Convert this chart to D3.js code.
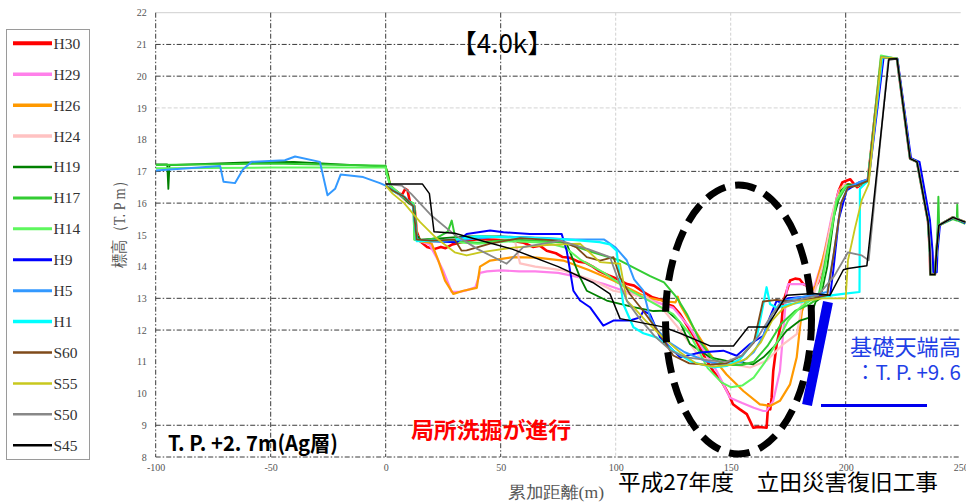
<!DOCTYPE html>
<html>
<head>
<meta charset="utf-8">
<script src="https://cdn.jsdelivr.net/npm/d3@7"></script>
<style>
  html, body { margin: 0; padding: 0; background: #fff; }
  svg { display: block; }
</style>
</head>
<body>
<svg id="chart" width="966" height="504"></svg>
<script>
// ---- Survey years (legend order) and styling ----
const seriesNames  = ["H30", "H29", "H26", "H24", "H19", "H17", "H14", "H9", "H5", "H1", "S60", "S55", "S50", "S45"];
const seriesColors = ["#ff0000", "#ff80ea", "#ff9900", "#ffc2c2", "#008000", "#33cc33", "#5ef75e", "#0000ff", "#3399ff", "#00ffff", "#7f4a1a", "#c8c81e", "#888888", "#000000"];
const lineWidths   = [2.6, 2.2, 2.2, 2.2, 1.8, 2, 2, 2, 2, 2.2, 1.8, 1.8, 1.8, 1.5];
const legendWidths = [4, 3.5, 3.5, 3.5, 2.5, 3, 3, 3, 3, 3.5, 2.5, 2.5, 2.5, 2.5];

// ---- Axis ticks ----
const xTicks = [-100, -50, 0, 50, 100, 150, 200, 250];
const yTicks = [8, 9, 10, 11, 12, 13, 14, 15, 16, 17, 18, 19, 20, 21, 22];
const yGridMajor = [9, 12, 13, 16, 17, 20, 21];
const yGridMinor = [19];
const xGridMajor = [-50, 0, 50, 200];
const xGridMinor = [100, 150];

// ---- Cross-section profiles: [cumulative distance (m), elevation T.P. (m)] ----
// crest of the levee and the land-side slope, shared by most surveys
const crestTail = [[222.3, 20.55], [228, 17.4], [231, 17.3], [235.8, 15.43], [236.6, 14.46], [236.8, 13.75], [238.8, 13.75], [239.5, 14.5], [240.5, 15.3], [246.6, 15.55], [252, 15.4]];

const H30 = [[0, 16.6], [3, 16.45], [7, 16.25], [8.5, 16.45], [9.5, 16.4], [10.5, 16.05], [12.5, 15.9], [13.5, 15.1], [15, 14.8], [18, 14.62], [21, 14.55], [24, 14.62], [26, 14.58], [29, 14.7], [32, 14.75], [36, 14.82], [41, 14.87], [46, 14.85], [51, 14.87], [56, 14.8], [60, 14.75], [64, 14.62], [67, 14.66], [70, 14.5], [74, 14.42], [77, 14.3], [80, 14.28], [84, 14.15], [87, 14.12], [90, 14.0], [93, 13.85], [97, 13.72], [101, 13.6], [105, 13.45], [108, 13.4], [112, 13.2], [116, 13.03], [120, 12.95], [123, 12.8], [125, 12.75], [128, 12.5], [131.6, 12.08], [134, 11.8], [136.6, 11.45], [139, 11.1], [142.4, 10.71], [146.8, 10.29], [149, 10.0], [151, 9.66], [154, 9.5], [157, 9.35], [159.8, 8.92], [162, 8.95], [165.6, 8.92], [166.3, 9.66], [167.2, 9.5], [167.8, 9.87], [168.5, 10.71], [170, 11.56], [172.2, 12.3], [172.9, 12.9], [175.8, 13.56], [178, 13.62], [180, 13.6], [181.6, 13.45], [183, 13.4], [186, 13.3], [188, 13.5], [191, 14.3], [194, 15.5], [197, 16.4], [198.5, 16.65], [200, 16.7], [202, 16.75], [203.3, 16.63], [205, 16.5], [209.6, 16.7], [215.5, 20.6]];

const H29 = [[0, 16.6], [2, 16.5], [10, 16.0], [12.5, 15.9], [13.5, 15.0], [15, 14.8], [19, 14.7], [22, 14.3], [25, 13.87], [28.7, 13.2], [32, 13.2], [35, 13.25], [39, 13.35], [41, 13.8], [44, 13.85], [50, 13.88], [58, 13.85], [65, 13.85], [75, 13.8], [85, 13.65], [95, 13.45], [105, 13.2], [115, 12.95], [125, 12.7], [132, 12.1], [138, 11.4], [144, 10.7], [149.7, 9.87], [155, 9.7], [160, 9.55], [164.2, 9.45], [165.6, 9.45], [168.5, 9.77], [171.4, 10.71], [172.9, 11.98], [174.3, 13.24], [175, 13.45], [181.6, 13.45], [186, 13.3], [190, 14.2], [194, 15.6], [197, 16.4], [200, 16.6], [205, 16.55], [209.6, 16.7], [215.5, 20.6]];

const H26 = [[0, 17.1], [1, 16.9], [2, 16.55], [10, 16.0], [12.5, 15.9], [13.5, 15.0], [15, 14.8], [19, 14.75], [20, 14.72], [22.9, 14.19], [25.8, 13.56], [29.4, 13.14], [33.8, 13.24], [39.6, 13.33], [41, 14.0], [45.4, 14.19], [55.5, 14.3], [65.6, 14.28], [77.2, 14.19], [88, 13.9], [99, 13.56], [113.5, 13.03], [122, 12.9], [126, 12.87], [127, 13.05], [128, 12.8], [133.7, 12.08], [141, 11.24], [148.2, 10.6], [155.5, 10.08], [162.7, 9.66], [167.1, 9.61], [171.4, 9.77], [175.8, 10.29], [178.7, 11.14], [180.1, 12.08], [181, 12.6], [183, 13.0], [187, 13.4], [191, 14.5], [195, 15.8], [198, 16.5], [201, 16.6], [205, 16.55], [209.6, 16.7], [215.5, 20.6]];

const H24 = [[0, 16.6], [10, 16.0], [12.5, 15.9], [13.5, 15.0], [15, 14.8], [25, 14.85], [35, 14.92], [42, 14.95], [50, 14.9], [56, 14.88], [58.4, 14.1], [65, 14.0], [77.2, 13.88], [90.3, 13.56], [99, 13.24], [113.5, 13.03], [120, 12.7], [128, 12.0], [136.6, 11.14], [144, 10.97], [151.1, 10.92], [158.4, 10.82], [165.6, 11.03], [172.9, 11.56], [178.7, 11.87], [180.1, 12.4], [181, 12.9], [186, 13.1], [190, 14.0], [195, 15.9], [199, 16.55], [205, 16.55], [209.6, 16.7], [215.5, 20.6]];

const H19 = [[-100, 17.22], [-95, 17.22], [-94.5, 16.45], [-94, 17.2], [-60, 17.28], [-40, 17.3], [-20, 17.22], [0, 17.15], [1, 16.9], [2, 16.55], [10, 16.0], [12.5, 15.9], [13.5, 15.0], [15, 14.85], [25, 14.9], [35, 14.95], [50, 14.95], [65, 14.9], [75, 14.82], [78.7, 14.72], [84.5, 13.66], [87.4, 13.24], [96.1, 12.93], [107.7, 12.72], [116.4, 12.6], [122.2, 12.61], [128, 12.24], [132.3, 11.56], [141, 11.14], [148.2, 11.03], [154, 10.98], [159.8, 10.92], [164.2, 11.14], [168.5, 11.45], [174.3, 11.98], [180.1, 12.3], [184.5, 12.4], [187, 12.9], [189, 13.0], [192, 14.0], [195, 15.6], [198, 16.4], [201, 16.6], [205, 16.55], [209.6, 16.7], [215.5, 20.6]];

const H17 = [[-100, 17.2], [-50, 17.25], [0, 17.18], [0.5, 16.9], [2, 16.55], [10, 16.05], [12, 16.0], [12.5, 14.85], [15, 14.8], [22, 14.9], [27, 15.1], [28.7, 15.45], [30, 15.0], [31, 14.8], [40, 14.75], [55, 14.85], [70, 14.8], [78, 14.75], [90, 14.45], [101.9, 14.19], [115, 13.7], [121, 13.5], [126.5, 13.03], [131, 12.5], [137, 11.6], [142, 11.1], [148, 10.9], [155, 10.9], [160, 11.0], [166, 11.5], [172, 12.2], [178, 12.6], [184, 12.8], [188, 13.0], [192, 14.5], [196, 16.0], [200, 16.5], [205, 16.55], [209.6, 16.7], [215.5, 20.6], [222.3, 20.55], [228, 17.4], [231, 17.3], [235.8, 15.43], [236.6, 14.46], [236.8, 13.75], [238.8, 13.75], [239.5, 14.5], [240, 15.3], [240.3, 16.2], [240.6, 15.3], [246.6, 15.5], [248.3, 15.45], [248.5, 15.95], [248.7, 15.45], [252, 15.35]];

const H14 = [[-100, 17.1], [-50, 17.12], [0, 17.12], [0.5, 16.9], [2, 16.55], [10, 16.05], [12, 16.0], [12.5, 14.85], [15, 14.8], [25, 14.8], [40, 14.72], [55, 14.8], [70, 14.75], [78, 14.6], [85, 14.2], [95, 13.8], [105, 13.3], [115, 12.9], [125, 12.5], [132, 11.9], [140, 10.8], [146, 10.35], [150, 10.2], [155, 10.25], [160, 10.5], [165, 11.0], [170, 11.6], [175, 12.3], [180, 12.7], [184, 12.9], [189, 13.2], [193, 14.8], [196, 16.1], [200, 16.55], [205, 16.55], [209.6, 16.7], [215.3, 20.65]];

const H9 = [[0, 16.55], [3, 16.4], [8, 16.2], [12, 15.9], [13.5, 14.82], [30.9, 14.77], [35.2, 15.03], [45.4, 15.14], [51.2, 15.08], [62.7, 15.03], [76.5, 15.03], [78.7, 14.5], [81.6, 13.24], [84.5, 12.93], [88.8, 12.72], [94.6, 12.14], [99, 12.3], [106.2, 12.3], [110.6, 12.4], [112, 12.6], [114.9, 12.5], [119.3, 11.77], [128, 11.14], [136.6, 11.29], [146.8, 11.35], [152.6, 11.19], [158.4, 11.56], [164.2, 11.82], [167, 12.4], [170, 12.93], [172, 12.85], [175, 13.0], [180.1, 13.03], [187.4, 13.08], [193.2, 13.08], [194.6, 13.87], [197, 15.5], [200.4, 16.4], [206, 16.66], [210, 16.75], [216.5, 20.6], [222.5, 20.54], [228.4, 17.42], [232.1, 17.3], [236.6, 15.48], [237.8, 14.46], [238.1, 13.82], [239.6, 13.82], [239.9, 14.46], [241, 15.32], [247, 15.54], [252, 15.37]];

const H5 = [[-100, 17.03], [-72, 17.17], [-70.5, 16.67], [-65.5, 16.63], [-62, 17.07], [-58.3, 17.3], [-43.8, 17.35], [-39.4, 17.47], [-28.6, 17.3], [-25.3, 16.25], [-22, 16.45], [-19.6, 16.9], [-9.8, 16.82], [-2.5, 16.63], [0, 16.55], [3, 16.4], [8, 16.2], [12, 15.9], [13.5, 14.85], [20, 14.8], [35, 14.85], [50, 14.95], [70, 14.9], [80, 14.85], [95, 14.85], [100, 14.6], [104.8, 14.2], [108, 13.6], [112, 13.24], [114.9, 12.4], [118, 12.0], [123.6, 11.6], [130, 11.3], [140, 11.0], [148, 10.9], [155, 11.0], [160, 11.3], [164, 11.8], [168, 12.5], [172, 12.9], [178, 13.0], [185, 13.1], [192, 13.2], [195, 14.5], [198, 16.0], [201, 16.5], [206, 16.66], [210, 16.75], [216, 20.6]];

const H1 = [[0, 16.55], [3, 16.4], [8, 16.2], [12, 15.9], [13.5, 14.8], [20, 14.82], [30, 14.85], [40, 14.95], [55, 14.92], [65, 14.9], [80, 14.85], [93, 14.77], [97.5, 14.7], [100.4, 14.5], [102, 13.5], [103.3, 12.82], [107.7, 12.09], [112, 11.9], [117.8, 11.77], [125, 11.35], [133, 11.0], [142.4, 10.82], [148.2, 10.87], [154, 11.08], [161.3, 11.77], [164.2, 12.82], [165.6, 13.35], [167.1, 12.82], [170, 12.7], [175, 12.8], [180.1, 12.87], [187, 13.0], [194.6, 13.1], [199.7, 13.15], [206, 13.2], [206.2, 16.45], [209.6, 16.7], [215.8, 20.6]];

const S60 = [[0, 16.55], [3, 16.4], [8, 16.2], [12, 15.9], [13.5, 14.85], [20, 14.82], [30, 14.85], [33, 14.5], [35.2, 14.51], [45.4, 14.72], [58.4, 14.9], [75.8, 14.82], [83, 14.6], [87.4, 14.3], [93.2, 14.19], [99, 14.3], [101.9, 13.66], [106.2, 13.13], [112, 12.6], [118, 12.0], [125, 11.2], [132, 10.95], [140, 10.9], [148, 10.95], [155, 11.2], [160, 11.6], [164, 12.9], [170, 12.95], [175, 12.9], [180, 12.95], [186, 13.0], [192, 13.1], [195, 14.5], [198, 16.0], [201, 16.5], [205, 16.55], [209.6, 16.7], [215.5, 20.6]];

const S55 = [[0, 16.55], [3, 16.3], [8, 16.0], [15, 15.4], [22, 14.9], [30, 14.45], [35.2, 14.35], [41, 14.45], [55.5, 14.6], [70, 14.68], [84.5, 14.72], [93.2, 14.14], [101.9, 14.09], [104.8, 12.93], [108, 12.7], [113, 12.3], [120, 11.8], [128, 11.3], [135, 10.95], [142, 10.85], [150, 10.9], [157, 11.1], [163, 11.6], [168, 12.3], [173, 12.7], [180, 12.9], [190, 13.0], [200, 13.0], [201, 14.2], [204, 15.2], [207, 16.1], [210, 16.6], [215.5, 20.6]];

const S50 = [[0, 16.6], [7, 16.55], [11, 16.3], [20, 15.6], [30, 15.0], [40, 14.55], [52.6, 14.09], [59.8, 14.61], [75.8, 14.82], [88, 14.55], [97.5, 14.3], [101, 13.6], [105, 12.9], [110, 12.4], [117, 11.8], [124, 11.35], [130, 11.15], [140, 11.05], [148, 11.0], [155, 11.2], [162, 11.8], [168, 12.5], [172, 12.85], [180, 12.95], [188, 13.1], [195, 13.7], [201, 14.45], [207, 14.35], [210, 14.2], [218.5, 20.5]];

const S45 = [[0, 16.6], [16, 16.6], [19, 16.3], [21, 15.1], [30, 15.05], [35, 14.95], [55, 14.55], [75, 14.0], [90, 13.5], [97.5, 13.14], [101.9, 12.36], [120.5, 12.1], [128, 11.9], [141, 11.5], [151.2, 11.5], [157.7, 12.1], [165.7, 12.1], [174.4, 13.1], [186, 13.15], [193.2, 13.1], [199, 13.9], [201, 13.94], [209.2, 14.03], [218.8, 20.54]];

// Surveys whose data run to the end of the section with the shared land-side slope
const profiles = [
  H30.concat(crestTail), H29.concat(crestTail), H26.concat(crestTail), H24.concat(crestTail),
  H19.concat(crestTail), H17, H14.concat(crestTail), H9, H5.concat(crestTail), H1.concat(crestTail),
  S60.concat(crestTail), S55.concat(crestTail), S50.concat(crestTail), S45.concat(crestTail)
];

// ---- Layout ----
const svg = d3.select("#chart");
const x = d3.scaleLinear().domain([-100, 250]).range([155.7, 960.7]);
const y = d3.scaleLinear().domain([8, 22]).range([457, 12.7]);

const serif = "'Liberation Serif', 'DejaVu Serif', serif";
const gothic = "'Noto Sans CJK JP', 'Noto Sans', sans-serif";

// ---- Grid ----
const grid = svg.append("g");
grid.append("line")
  .attr("x1", x(-100)).attr("x2", x(250)).attr("y1", y(22)).attr("y2", y(22))
  .attr("stroke", "#cfcfcf").attr("stroke-width", 1);
grid.selectAll(".gy-minor").data(yGridMinor).join("line")
  .attr("x1", x(-100)).attr("x2", x(250)).attr("y1", d => y(d)).attr("y2", d => y(d))
  .attr("stroke", "#d4d4d4").attr("stroke-width", 1).attr("stroke-dasharray", "4,2");
grid.selectAll(".gx-minor").data(xGridMinor).join("line")
  .attr("x1", d => x(d)).attr("x2", d => x(d)).attr("y1", y(22)).attr("y2", y(8))
  .attr("stroke", "#d0d0d0").attr("stroke-width", 1).attr("stroke-dasharray", "3,2");
grid.selectAll(".gy-major").data(yGridMajor.concat([8])).join("line")
  .attr("x1", x(-100)).attr("x2", x(250)).attr("y1", d => y(d)).attr("y2", d => y(d))
  .attr("stroke", "#3a3a3a").attr("stroke-width", 1).attr("stroke-dasharray", "5,2,1.5,2");
grid.selectAll(".gx-major").data([-100].concat(xGridMajor)).join("line")
  .attr("x1", d => x(d)).attr("x2", d => x(d)).attr("y1", y(22)).attr("y2", y(8))
  .attr("stroke", "#3a3a3a").attr("stroke-width", 1).attr("stroke-dasharray", "5,2,1.5,2");

// ---- Axes ----
const xAxis = svg.append("g")
  .attr("transform", `translate(0,${y(8)})`)
  .call(d3.axisBottom(x).tickValues(xTicks).tickSize(0).tickPadding(7).tickFormat(d => String(d)));
xAxis.select(".domain").remove();
xAxis.selectAll("text").attr("font-family", serif).attr("font-size", 10).attr("fill", "#555");

const yAxis = svg.append("g")
  .attr("transform", `translate(${x(-100)},0)`)
  .call(d3.axisLeft(y).tickValues(yTicks).tickSize(0).tickPadding(9).tickFormat(d => String(d)));
yAxis.select(".domain").remove();
yAxis.selectAll("text").attr("font-family", serif).attr("font-size", 10).attr("fill", "#555");

svg.append("text")
  .attr("transform", "translate(125,221) rotate(-90)")
  .attr("text-anchor", "middle")
  .attr("font-family", serif).attr("font-size", 17).attr("fill", "#555")
  .attr("textLength", 94).attr("lengthAdjust", "spacingAndGlyphs")
  .text("標高（T. P m）");

svg.append("text")
  .attr("x", 556).attr("y", 498)
  .attr("text-anchor", "middle")
  .attr("font-family", serif).attr("font-size", 17).attr("fill", "#555")
  .attr("textLength", 96).attr("lengthAdjust", "spacingAndGlyphs")
  .text("累加距離(m)");

// ---- Profiles ----
const line = d3.line().x(d => x(d[0])).y(d => y(d[1]));
svg.append("defs").append("clipPath").attr("id", "plotClip")
  .append("rect").attr("x", x(-100)).attr("y", y(22)).attr("width", 966 - x(-100)).attr("height", y(8) - y(22));
svg.append("g").attr("clip-path", "url(#plotClip)")
  .selectAll("path").data(profiles).join("path")
  .attr("d", line)
  .attr("fill", "none")
  .attr("stroke", (d, i) => seriesColors[i])
  .attr("stroke-width", (d, i) => lineWidths[i])
  .attr("stroke-linejoin", "round");

// ---- Annotations ----
svg.append("text")
  .attr("x", 502).attr("y", 53)
  .attr("text-anchor", "middle")
  .attr("font-family", gothic).attr("font-size", 26).attr("fill", "#000")
  .text("【4.0k】");

svg.append("text")
  .attr("x", 168).attr("y", 451)
  .attr("font-family", gothic).attr("font-weight", "bold").attr("font-size", 21).attr("fill", "#000")
  .attr("textLength", 170).attr("lengthAdjust", "spacingAndGlyphs")
  .text("T. P. +2. 7m(Ag層)");

svg.append("text")
  .attr("x", 411).attr("y", 438)
  .attr("font-family", gothic).attr("font-weight", "bold").attr("font-size", 22).attr("fill", "#ff0000")
  .attr("textLength", 160).attr("lengthAdjust", "spacingAndGlyphs")
  .text("局所洗掘が進行");

svg.append("text")
  .attr("x", 618).attr("y", 490)
  .attr("font-family", gothic).attr("font-size", 22).attr("fill", "#000")
  .attr("textLength", 320).attr("lengthAdjust", "spacingAndGlyphs")
  .text("平成27年度　立田災害復旧工事");

svg.append("text")
  .attr("x", 850).attr("y", 355)
  .attr("font-family", gothic).attr("font-size", 22).attr("fill", "#1f3fe6")
  .attr("textLength", 111).attr("lengthAdjust", "spacingAndGlyphs")
  .text("基礎天端高");

svg.append("text")
  .attr("x", 855).attr("y", 380)
  .attr("font-family", gothic).attr("font-size", 20).attr("fill", "#1f3fe6")
  .attr("textLength", 106).attr("lengthAdjust", "spacingAndGlyphs")
  .text("：T. P. +9. 6");

// foundation top: slanted bar and level line
svg.append("line")
  .attr("x1", 828).attr("y1", 302).attr("x2", 807).attr("y2", 405)
  .attr("stroke", "#0000ee").attr("stroke-width", 10);
svg.append("line")
  .attr("x1", 821).attr("y1", 405.5).attr("x2", 927).attr("y2", 405.5)
  .attr("stroke", "#0000ee").attr("stroke-width", 3);

// scour zone outline
svg.append("ellipse")
  .attr("cx", 738.5).attr("cy", 319.5).attr("rx", 73).attr("ry", 134.5)
  .attr("fill", "none").attr("stroke", "#000").attr("stroke-width", 7)
  .attr("stroke-dasharray", "21,10");

// ---- Legend ----
const legend = svg.append("g");
legend.append("rect")
  .attr("x", 6.5).attr("y", 29.5).attr("width", 83).attr("height", 430)
  .attr("fill", "#fff").attr("stroke", "#9a9a9a").attr("stroke-width", 1);
const rows = legend.selectAll(".row").data(seriesNames).join("g")
  .attr("transform", (d, i) => `translate(0,${43.3 + i * 30.92})`);
rows.append("line")
  .attr("x1", 13).attr("x2", 52).attr("y1", 0).attr("y2", 0)
  .attr("stroke", (d, i) => seriesColors[i])
  .attr("stroke-width", (d, i) => legendWidths[i]);
rows.append("text")
  .attr("x", 53.5).attr("y", 5.5)
  .attr("font-family", serif).attr("font-size", 15.5).attr("fill", "#333")
  .text(d => d);
</script>
</body>
</html>
